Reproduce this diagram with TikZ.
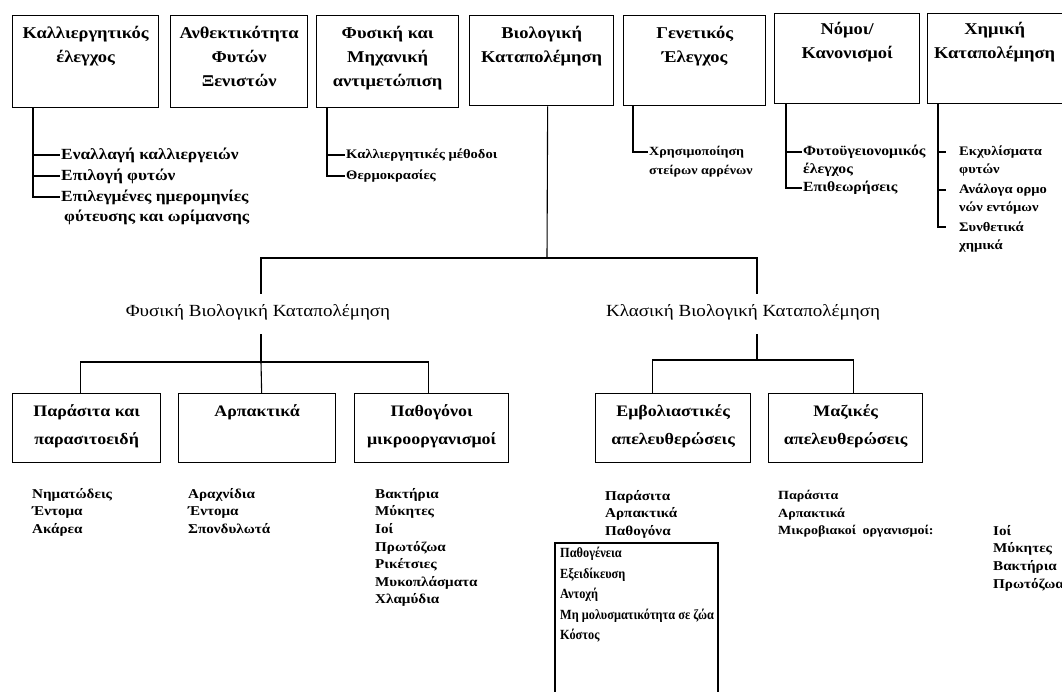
\documentclass[tikz,border=0pt]{standalone}
\usepackage{fontspec}
\setmainfont{Liberation Serif}[FakeStretch=1.12]
\newfontfamily\narrowfont{Liberation Serif}[FakeStretch=0.88]
\begin{document}
\begin{tikzpicture}[x=1pt,y=-1pt,
  box/.style={draw, line width=1.3pt, inner sep=0pt, anchor=north west},
  btxt/.style={anchor=north, align=center, inner sep=0pt, font=\fontsize{16.5}{24}\selectfont\bfseries},
  rtxt/.style={anchor=north, align=center, inner sep=0pt, font=\fontsize{16}{28}\selectfont\bfseries},
  ltxt/.style={anchor=west, inner sep=1pt, font=\fontsize{14}{16}\selectfont\bfseries},
  mtxt/.style={inner sep=0pt, font=\fontsize{17}{20}\selectfont},
  coltxt/.style={anchor=north west, align=left, inner sep=0pt, font=\fontsize{13.5}{17.6}\selectfont\bfseries},
  conn/.style={line width=1.1pt},
  thickline/.style={line width=2.6pt}]
\useasboundingbox (0,0) rectangle (1062,691);
\fill[white] (0,0) rectangle (1062,691);
% top row
\node[box, minimum width=146pt, minimum height=92pt] (b1) at (12,15) {};
\node[box, minimum width=137pt, minimum height=92pt] (b2) at (170,15) {};
\node[box, minimum width=142pt, minimum height=92pt] (b3) at (316,15) {};
\node[box, minimum width=144pt, minimum height=90pt] (b4) at (469,15) {};
\node[box, minimum width=142pt, minimum height=90pt] (b5) at (623,15) {};
\node[box, minimum width=145pt, minimum height=90pt] (b6) at (774,13) {};
\node[box, minimum width=150pt, minimum height=90pt] (b7) at (927,13) {};
\node[btxt] (t1) at ([yshift=-11pt]b1.north) {Καλλιεργητικός\\έλεγχος};
\node[btxt] (t2) at ([yshift=-11pt]b2.north) {Ανθεκτικότητα\\Φυτών\\Ξενιστών};
\node[btxt] (t3) at ([yshift=-11pt]b3.north) {Φυσική και\\Μηχανική\\αντιμετώπιση};
\node[btxt] (t4) at ([yshift=-11pt]b4.north) {Βιολογική\\Καταπολέμηση};
\node[btxt] (t5) at ([yshift=-11pt]b5.north) {Γενετικός\\Έλεγχος};
\node[btxt] (t6) at ([yshift=-9pt]b6.north) {Νόμοι/\\Κανονισμοί};
\node[btxt] (t7) at ([xshift=-8pt,yshift=-9pt]b7.north) {Χημική\\Καταπολέμηση};
% list under b1
\node[ltxt, font=\fontsize{15.5}{16}\selectfont\bfseries] (l11) at (60,155) {Εναλλαγή καλλιεργειών};
\node[ltxt, font=\fontsize{15.5}{16}\selectfont\bfseries] (l12) at (60,176) {Επιλογή φυτών};
\node[ltxt, font=\fontsize{15.5}{16}\selectfont\bfseries] (l13) at (60,197) {Επιλεγμένες ημερομηνίες};
\node[ltxt, font=\fontsize{15.5}{16}\selectfont\bfseries] (l14) at (63,217) {φύτευσης και ωρίμανσης};
\draw[conn] ([xshift=21pt]b1.south west) |- (l11.west);
\draw[conn] ([xshift=21pt]b1.south west) |- (l12.west);
\draw[conn] ([xshift=21pt]b1.south west) |- (l13.west);
% list under b3
\node[ltxt, font=\fontsize{13}{16}\selectfont\bfseries] (l31) at (345,155) {Καλλιεργητικές μέθοδοι};
\node[ltxt, font=\fontsize{13}{16}\selectfont\bfseries] (l32) at (345,176) {Θερμοκρασίες};
\draw[conn] ([xshift=11pt]b3.south west) |- (l31.west);
\draw[conn] ([xshift=11pt]b3.south west) |- (l32.west);
% list under b5
\node[ltxt, font=\fontsize{12.5}{16}\selectfont\bfseries] (l51) at (648,152) {Χρησιμοποίηση};
\node[ltxt, font=\fontsize{12.5}{16}\selectfont\bfseries] (l52) at (648,171) {στείρων αρρένων};
\draw[conn] ([xshift=10pt]b5.south west) |- (l51.west);
% list under b6
\node[ltxt] (l61) at (802,152) {Φυτοϋγειονομικός};
\node[ltxt] (l62) at (802,170) {έλεγχος};
\node[ltxt] (l63) at (802,188) {Επιθεωρήσεις};
\draw[conn] ([xshift=12pt]b6.south west) |- (l61.west);
\draw[conn] ([xshift=12pt]b6.south west) |- (l63.west);
% list under b7
\node[ltxt, font=\fontsize{13}{16}\selectfont\bfseries] (l71) at (958,152) {Εκχυλίσματα};
\node[ltxt, font=\fontsize{13}{16}\selectfont\bfseries] (l72) at (958,170) {φυτών};
\node[ltxt, font=\fontsize{13}{16}\selectfont\bfseries] (l73) at (958,190) {Ανάλογα ορμο};
\node[ltxt, font=\fontsize{13}{16}\selectfont\bfseries] (l74) at (958,208) {νών εντόμων};
\node[ltxt, font=\fontsize{13}{16}\selectfont\bfseries] (l75) at (958,227) {Συνθετικά};
\node[ltxt, font=\fontsize{13}{16}\selectfont\bfseries] (l76) at (958,246) {χημικά};
\draw[conn] ([xshift=11pt]b7.south west) |- ([xshift=-12pt]l75.west);
\draw[conn] ([xshift=-20pt]l71.west) -- ([xshift=-12pt]l71.west);
\draw[conn] ([xshift=-20pt]l73.west) -- ([xshift=-12pt]l73.west);
% biological tree
\coordinate (j1) at (547,258);
\draw[conn] ([xshift=6pt]b4.south) -- (j1);
\node[mtxt] (fbk) at (258,312) {Φυσική Βιολογική Καταπολέμηση};
\node[mtxt] (kbk) at (743,312) {Κλασική Βιολογική Καταπολέμηση};
\draw[conn] ([xshift=3pt,yshift=10pt]fbk.north) |- (j1) -| ([xshift=14pt,yshift=10pt]kbk.north);
% second row boxes
\node[box, minimum width=148pt, minimum height=69pt] (pA) at (12,393) {};
\node[box, minimum width=157pt, minimum height=69pt] (pB) at (178,393) {};
\node[box, minimum width=154pt, minimum height=69pt] (pC) at (354,393) {};
\node[box, minimum width=155pt, minimum height=69pt] (pD) at (595,393) {};
\node[box, minimum width=154pt, minimum height=69pt] (pE) at (768,393) {};
\node[rtxt] (tA) at ([yshift=-11pt]pA.north) {Παράσιτα και\\παρασιτοειδή};
\node[rtxt] (tB) at ([yshift=-11pt]pB.north) {Αρπακτικά};
\node[rtxt] (tC) at ([yshift=-11pt]pC.north) {Παθογόνοι\\μικροοργανισμοί};
\node[rtxt] (tD) at ([yshift=-11pt]pD.north) {Εμβολιαστικές\\απελευθερώσεις};
\node[rtxt] (tE) at ([yshift=-11pt]pE.north) {Μαζικές\\απελευθερώσεις};
\coordinate (j2) at (261,362);
\draw[conn] ([xshift=3pt,yshift=-14pt]fbk.south) -- (j2);
\draw[conn] ([xshift=-6pt]pA.north) |- (j2) -| ([xshift=-3pt]pC.north);
\draw[conn] (j2) -- ([xshift=4.5pt]pB.north);
\coordinate (j3) at (757,360);
\draw[conn] ([xshift=14pt,yshift=-14pt]kbk.south) -- (j3);
\draw[conn] ([xshift=-20.5pt]pD.north) |- (j3) -| ([xshift=8pt]pE.north);
% bottom lists
\node[coltxt] (c1) at (32,488) {Νηματώδεις\\Έντομα\\Ακάρεα};
\node[coltxt] (c2) at (188,488) {Αραχνίδια\\Έντομα\\Σπονδυλωτά};
\node[coltxt] (c3) at (375,488) {Βακτήρια\\Μύκητες\\Ιοί\\Πρωτόζωα\\Ρικέτσιες\\Μυκοπλάσματα\\Χλαμύδια};
\node[coltxt] (c4) at (605,490) {Παράσιτα\\Αρπακτικά\\Παθογόνα};
\node[coltxt, font=\fontsize{12.5}{17.6}\selectfont\bfseries] (c5) at (778,490) {Παράσιτα\\Αρπακτικά\\Μικροβιακοί\enspace οργανισμοί:};
\node[coltxt] (c6) at (993,525) {Ιοί\\Μύκητες\\Βακτήρια\\Πρωτόζωα};
% thick open box (cut by the lower edge)
\coordinate (kbl) at (555,543);
\coordinate (kbr) at (718,543);
\draw[thickline] ([yshift=-160pt]kbl) |- (kbr) -- ([yshift=-160pt]kbr);
\node[coltxt, font=\fontsize{14}{20.5}\narrowfont\bfseries] (kt) at ([xshift=5pt,yshift=-4pt]kbl) {Παθογένεια\\Εξειδίκευση\\Αντοχή\\Μη μολυσματικότητα σε ζώα\\Κόστος};
\end{tikzpicture}
\end{document}
